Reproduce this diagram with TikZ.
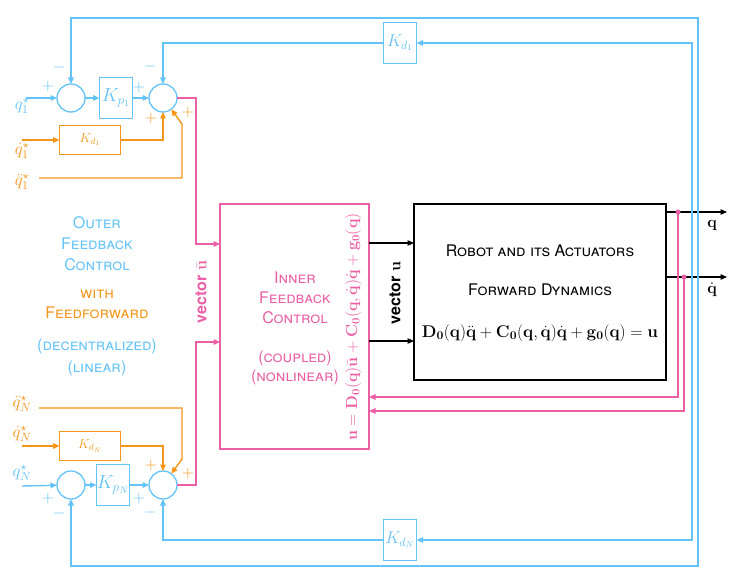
\RequirePackage{fix-cm}
\documentclass[tikz,border=0pt]{standalone}
\usepackage[no-math]{fontspec}
\setmainfont{TeX Gyre Heros}
\usetikzlibrary{arrows.meta,positioning}

\newcommand{\vb}[1]{\mathbf{#1}}
\newcommand{\zr}{_{\mathbf{0}}}

\tikzset{
  sumnode/.style={circle,draw=blueColor,line width=1.3pt,minimum size=28pt},
  gainbox/.style={draw=blueColor,line width=1.3pt,text=blueColor,minimum width=33pt,minimum height=41pt},
  ffbox/.style={draw=orangeColor,line width=1.3pt,text=orangeColor,minimum width=61pt,minimum height=29pt,font=\fontsize{13}{13}\selectfont},
  blueLine/.style={draw=blueColor,line width=1.4pt},
  orangeLine/.style={draw=orangeColor,line width=1.4pt},
  pinkLine/.style={draw=pinkColor,line width=1.4pt},
  blackLine/.style={draw=black,line width=1.2pt},
  sgn/.style={font=\fontsize{16}{16}\selectfont},
  refLabel/.style={font=\fontsize{17}{17}\selectfont},
}

\begin{document}
\begin{tikzpicture}[x=1pt,y=-1pt,>={Triangle[length=6.5pt,width=5.5pt]},
  every node/.style={inner sep=0pt,outer sep=0pt}]
\definecolor{blueColor}{RGB}{100,195,248}
\definecolor{orangeColor}{RGB}{245,150,25}
\definecolor{pinkColor}{RGB}{235,95,165}
\useasboundingbox[fill=white] (0,0) rectangle (738,572);

% outer loop, joint 1
\node[sumnode] (sumOneA) at (71,98) {};
\node[sumnode] (sumOneB) at (163,98) {};
\node[gainbox,font=\fontsize{19}{19}\selectfont] (kpOne) at (116,98) {$K_{p_1}$};
\node[ffbox] (kdOne) at (90,140) {$K_{d_1}$};

% outer loop, joint N
\node[sumnode] (sumNA) at (71,485) {};
\node[sumnode] (sumNB) at (163,485) {};
\node[gainbox,font=\fontsize{19}{19}\selectfont] (kpN) at (113,485) {$K_{p_N}$};
\node[ffbox] (kdN) at (90,446) {$K_{d_N}$};

% velocity gains in the feedback path
\node[gainbox,font=\fontsize{17}{17}\selectfont] (kdTop) at (400,43) {$K_{d_1}$};
\node[gainbox,font=\fontsize{17}{17}\selectfont] (kdBot) at (400,540) {$K_{d_N}$};

% inner loop and plant
\node[draw=pinkColor,line width=1.3pt,minimum width=149pt,minimum height=245pt] (inner) at (294.5,326.5) {};
\node[draw=black,line width=1.4pt,minimum width=252pt,minimum height=176pt] (robot) at (540,292) {};

% references
\node[refLabel,text=blueColor] (qOneRef) at (22,106) {$q_1^\star$};
\node[refLabel,text=orangeColor] (dqOneRef) at (22,151) {$\dot q_1^\star$};
\node[refLabel,text=orangeColor] (ddqOneRef) at (22,182) {$\ddot q_1^\star$};
\node[refLabel,text=orangeColor] (ddqNRef) at (22,404) {$\ddot q_N^\star$};
\node[refLabel,text=orangeColor] (dqNRef) at (22,434) {$\dot q_N^\star$};
\node[refLabel,text=blueColor] (qNRef) at (22,473) {$q_N^\star$};

\coordinate (inQOne) at (26,98);
\coordinate (inDqOne) at (22,140);
\coordinate (inDdqOne) at (39,178);
\coordinate (bendOne) at (182,124);
\coordinate (inQN) at (22,486);
\coordinate (inDqN) at (22,446);
\coordinate (inDdqN) at (39,408);
\coordinate (bendN) at (182,459);

\draw[blueLine,->] (inQOne) -- (sumOneA);
\draw[blueLine,->] (sumOneA) -- (kpOne);
\draw[blueLine,->] (kpOne) -- (sumOneB);
\draw[orangeLine,->] (inDqOne) -- (kdOne);
\draw[orangeLine,->] (kdOne) -| (sumOneB);
\draw[orangeLine,->] (inDdqOne) -| (bendOne) -- (sumOneB);

\draw[blueLine,->] (inQN) -- (sumNA);
\draw[blueLine,->] (sumNA) -- (kpN);
\draw[blueLine,->] (kpN) -- (sumNB);
\draw[orangeLine,->] (inDqN) -- (kdN);
\draw[orangeLine,->] (kdN) -| (sumNB);
\draw[orangeLine,->] (inDdqN) -| (bendN) -- (sumNB);

% signs
\node[sgn,text=blueColor] (sgnA) at (48,87) {$+$};
\node[sgn,text=blueColor] (sgnB) at (59,68) {$-$};
\node[sgn,text=blueColor] (sgnC) at (139,88) {$+$};
\node[sgn,text=blueColor] (sgnD) at (150,67) {$-$};
\node[sgn,text=orangeColor] (sgnE) at (151,119) {$+$};
\node[sgn,text=orangeColor] (sgnF) at (188,113) {$+$};
\node[sgn,text=blueColor] (sgnG) at (48,498) {$+$};
\node[sgn,text=blueColor] (sgnH) at (59,513) {$-$};
\node[sgn,text=blueColor] (sgnI) at (139,498) {$+$};
\node[sgn,text=blueColor] (sgnJ) at (150,512) {$-$};
\node[sgn,text=orangeColor] (sgnK) at (151,465) {$+$};
\node[sgn,text=orangeColor] (sgnL) at (188,473) {$+$};

% outer loop output
\coordinate (uBarOne) at (196,244);
\coordinate (uBarN) at (196,342);
\draw[pinkLine,->] (sumOneB) -| (uBarOne) -- (inner.west |- uBarOne);
\draw[pinkLine,->] (sumNB) -| (uBarN) -- (inner.west |- uBarN);

% control input
\coordinate (uTop) at (0,243);
\coordinate (uBot) at (0,341);
\draw[blackLine,->] (inner.east |- uTop) -- (robot.west |- uTop);
\draw[blackLine,->] (inner.east |- uBot) -- (robot.west |- uBot);

% outputs
\coordinate (qOut) at (727,212);
\coordinate (dqOut) at (727,277);
\draw[blackLine,->] (robot.east |- qOut) -- (qOut);
\draw[blackLine,->] (robot.east |- dqOut) -- (dqOut);
\node[font=\fontsize{16}{16}\selectfont] (qLabel) at (712,225) {$\vb{q}$};
\node[font=\fontsize{16}{16}\selectfont] (dqLabel) at (712,290) {$\dot{\vb{q}}$};

% feedback to the inner loop
\coordinate (qTap) at (678,212);
\coordinate (dqTap) at (684,277);
\coordinate (qBack) at (0,397);
\coordinate (dqBack) at (0,411);
\draw[pinkLine,->] (qTap) |- (inner.east |- qBack);
\draw[pinkLine,->] (dqTap) |- (inner.east |- dqBack);
\fill[pinkColor] (qTap) circle (2.5pt);
\fill[pinkColor] (dqTap) circle (2.5pt);

% feedback to the outer loop
\coordinate (outerTop) at (698,18);
\coordinate (outerBot) at (698,566);
\coordinate (innerTop) at (692,43);
\coordinate (innerBot) at (692,540);
\draw[blueLine,<->] (sumOneA) |- (outerTop) -- (outerBot) -| (sumNA);
\draw[blueLine,<->] (kdTop) -- (innerTop) -- (innerBot) -- (kdBot);
\draw[blueLine,->] (kdTop) -| (sumOneB);
\draw[blueLine,->] (kdBot) -| (sumNB);

% texts
\node[text=blueColor,align=center,font=\fontsize{16}{21}\selectfont] (outerText) at (97,244) {\textsc{Outer}\\\textsc{Feedback}\\\textsc{Control}};
\node[text=orangeColor,align=center,font=\fontsize{16}{20}\selectfont] (ffText) at (97,304) {\textsc{with}\\\textsc{Feedforward}};
\node[text=blueColor,align=center,font=\fontsize{16}{22}\selectfont] (decText) at (97,357) {\textsc{(decentralized)}\\\textsc{(linear)}};
\node[text=pinkColor,align=center,font=\fontsize{16}{20}\selectfont] (innerText) at (295,298) {\textsc{Inner}\\\textsc{Feedback}\\\textsc{Control}};
\node[text=pinkColor,align=center,font=\fontsize{16}{19}\selectfont] (coupledText) at (295,367.5) {\textsc{(coupled)}\\\textsc{(nonlinear)}};
\node[font=\fontsize{16}{16}\selectfont] (robotText) at (540,251) {\textsc{Robot and its Actuators}};
\node[font=\fontsize{16}{16}\selectfont] (fdText) at (540,290) {\textsc{Forward Dynamics}};
\node[font=\fontsize{17}{17}\selectfont] (fdLaw) at (540,333) {$\vb{D}\zr(\vb{q})\ddot{\vb{q}}+\vb{C}\zr(\vb{q},\dot{\vb{q}})\dot{\vb{q}}+\vb{g}\zr(\vb{q})=\vb{u}$};
\node[rotate=90,text=pinkColor,font=\fontsize{16}{16}\selectfont] (innerLaw) at (353,327) {$\vb{u}=\vb{D}\zr(\vb{q})\bar{\vb{u}}+\vb{C}\zr(\vb{q},\dot{\vb{q}})\dot{\vb{q}}+\vb{g}\zr(\vb{q})$};
\node[rotate=90,text=pinkColor,font=\bfseries\fontsize{16}{16}\selectfont] (uBarLabel) at (201,292) {vector $\bar{\vb{u}}$};
\node[rotate=90,font=\bfseries\fontsize{16}{16}\selectfont] (uLabel) at (395,293) {vector $\vb{u}$};
\end{tikzpicture}
\end{document}
